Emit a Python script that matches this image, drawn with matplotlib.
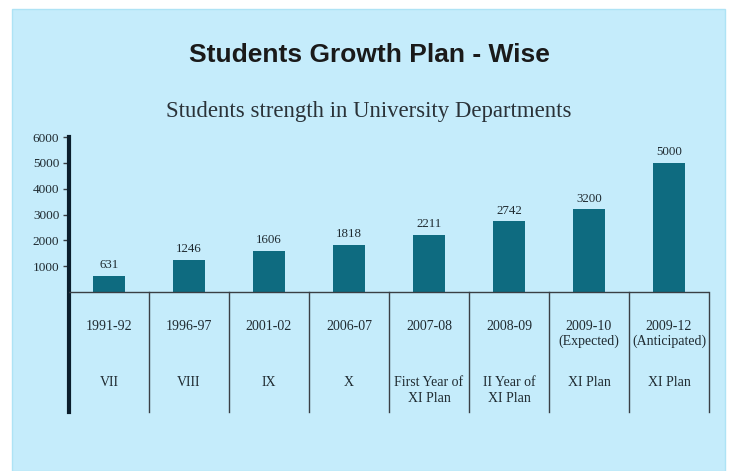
import matplotlib
matplotlib.use("Agg")
import matplotlib.pyplot as plt
from matplotlib.patches import Rectangle

periods = ["1991-92", "1996-97", "2001-02", "2006-07", "2007-08", "2008-09",
           "2009-10\n(Expected)", "2009-12\n(Anticipated)"]
plans = ["VII", "VIII", "IX", "X", "First Year of\nXI Plan", "II Year of\nXI Plan",
         "XI Plan", "XI Plan"]
students = [631, 1246, 1606, 1818, 2211, 2742, 3200, 5000]
yticks = [1000, 2000, 3000, 4000, 5000, 6000]

W, H = 738, 471
BG = "#c5ecfb"
BAR = "#0e6b80"
TXT = "#1f2a30"
serif = ["Liberation Serif", "DejaVu Serif"]

fig = plt.figure(figsize=(W / 100, H / 100), dpi=100)
fig.patch.set_facecolor("white")
# light blue panel
fig.patches.append(Rectangle((12 / W, 0), (725 - 12) / W, (H - 9) / H,
                             transform=fig.transFigure, facecolor=BG,
                             edgecolor="#aee3f5", linewidth=1, zorder=-5))

left, right, top, bottom = 69, 709, 137, 412
ax = fig.add_axes([left / W, (H - bottom) / H, (right - left) / W, (bottom - top) / H])
ax.set_facecolor("none")
ymin = -(bottom - 292) / (292 - 137) * 6000
ax.set_xlim(0, len(students))
ax.set_ylim(ymin, 6000)

xs = [i + 0.5 for i in range(len(students))]
ax.bar(xs, students, width=0.41, color=BAR, zorder=3)
for x, v in zip(xs, students):
    ax.text(x, v + 180, str(v), ha="center", va="bottom", fontsize=9.3,
            family=serif, color=TXT)

# baseline and separators
ax.axhline(0, color="#3a3f44", linewidth=1.0, zorder=4)
for i in range(1, len(students) + 1):
    ax.plot([i, i], [0, ymin], color="#3a3f44", linewidth=1.0, zorder=4,
            clip_on=False)

dy = (6000 - ymin) / (bottom - top)  # data units per pixel
for x, p, pl in zip(xs, periods, plans):
    ax.text(x, -(320 - 292) * dy, p, ha="center", va="top", fontsize=10,
            family=serif, color=TXT, linespacing=1.15)
    ax.text(x, -(376 - 292) * dy, pl, ha="center", va="top", fontsize=10,
            family=serif, color=TXT, linespacing=1.28)

for s in ["top", "right", "bottom"]:
    ax.spines[s].set_visible(False)
ax.spines["left"].set_linewidth(3)
ax.spines["left"].set_color("#0b1e2c")
ax.set_xticks([])
ax.set_yticks(yticks)
ax.set_yticklabels([str(t) for t in yticks], family=serif, fontsize=9.5, color=TXT)
ax.tick_params(axis="y", length=4, width=1, color="#3a3f44", pad=3)

fig.text(369 / W, 1 - 55 / H, "Students Growth Plan - Wise", ha="center", va="center",
         fontsize=19, fontweight="bold", family="Liberation Sans", color="#1a1a1a")
fig.text(369 / W, 1 - 112 / H, "Students strength in University Departments",
         ha="center", va="center", fontsize=16.4, family=serif, color="#2a3238")

fig.savefig("out.png", dpi=100, facecolor="white")
